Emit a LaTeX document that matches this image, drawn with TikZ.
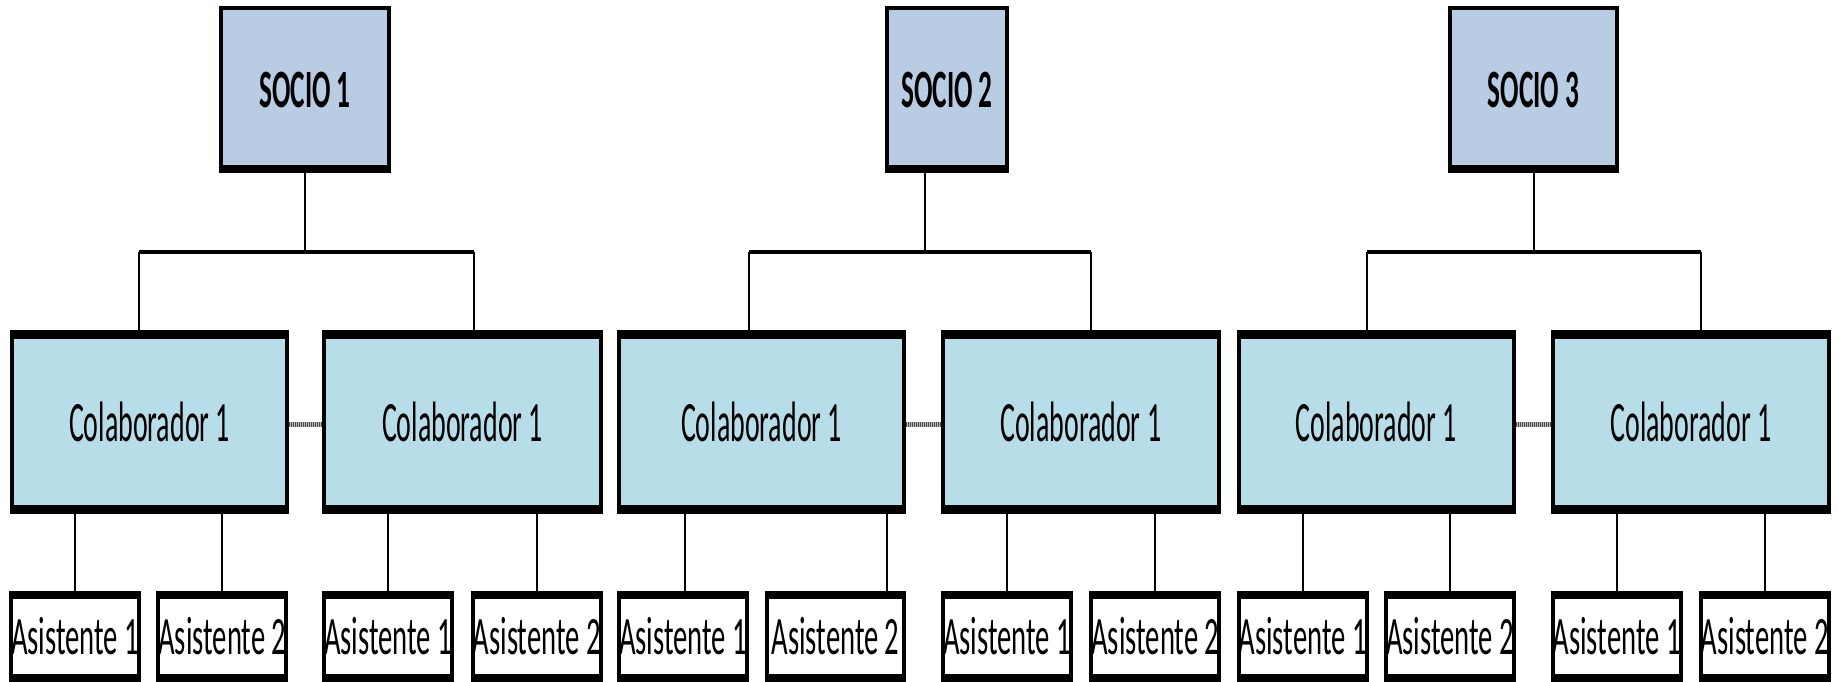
\documentclass[tikz,border=0pt]{standalone}
\usepackage{fontspec}
\setmainfont{Carlito}
\usepackage{graphicx}
\definecolor{sociofill}{RGB}{184,204,228}
\definecolor{colabfill}{RGB}{183,222,232}
\newcommand\sqz[2]{\scalebox{#1}[1]{#2}}
\begin{document}
\begin{tikzpicture}[x=1pt,y=-1pt,
  box/.style={draw=black, line width=4pt, inner sep=0pt, rectangle},
  bands/.style 2 args={path picture={
    \fill[black] (path picture bounding box.north west) rectangle ([yshift=-#1]path picture bounding box.north east);
    \fill[black] (path picture bounding box.south west) rectangle ([yshift=#2]path picture bounding box.south east);}},
  socio/.style={box, bands={0pt}{6pt}, fill=sociofill, minimum height=163pt,
    font=\fontsize{54}{60}\selectfont\bfseries},
  colab/.style={box, bands={7pt}{7pt}, fill=colabfill, minimum height=180pt,
    font=\fontsize{57}{62}\selectfont},
  asis/.style={box, bands={6pt}{6pt}, fill=white, minimum height=87pt,
    font=\fontsize{54}{60}\selectfont},
  conn/.style={draw=black, line width=2pt},
  barline/.style={draw=black, line width=4.5pt},
  linkline/.style={draw=gray!55, line width=5pt,
    postaction={draw=gray!60!black, line width=5pt, dash pattern=on 1pt off 1pt}}
]
\useasboundingbox (0,0) rectangle (1839,682);

% ---- socios ----
\node[socio, minimum width=168pt] (S1) at (305,89.5) {\sqz{0.505}{SOCIO 1}};
\node[socio, minimum width=120pt] (S2) at (947,89.5) {\sqz{0.505}{SOCIO 2}};
\node[socio, minimum width=167pt] (S3) at (1533.5,89.5) {\sqz{0.505}{SOCIO 3}};

% ---- colaboradores ----
\node[colab, minimum width=275pt]   (C1) at (149.5,422)  {\sqz{0.49}{Colaborador 1}};
\node[colab, minimum width=277pt]   (C2) at (462.5,422)  {\sqz{0.49}{Colaborador 1}};
\node[colab, minimum width=285pt]   (C3) at (761.5,422)  {\sqz{0.49}{Colaborador 1}};
\node[colab, minimum width=275.5pt] (C4) at (1080.75,422) {\sqz{0.49}{Colaborador 1}};
\node[colab, minimum width=275.4pt] (C5) at (1376.3,422) {\sqz{0.49}{Colaborador 1}};
\node[colab, minimum width=276pt]   (C6) at (1691,422)   {\sqz{0.49}{Colaborador 1}};

% ---- asistentes ----
\node[asis, minimum width=126pt]   (A1)  at (75,636.5)      {\sqz{0.53}{Asistente 1}};
\node[asis, minimum width=126.5pt] (A2)  at (222.25,636.5)  {\sqz{0.53}{Asistente 2}};
\node[asis, minimum width=128pt]   (A3)  at (388,636.5)     {\sqz{0.53}{Asistente 1}};
\node[asis, minimum width=128.5pt] (A4)  at (536.75,636.5)  {\sqz{0.53}{Asistente 2}};
\node[asis, minimum width=128pt]   (A5)  at (683,636.5)     {\sqz{0.53}{Asistente 1}};
\node[asis, minimum width=137pt]   (A6)  at (835.5,636.5)   {\sqz{0.53}{Asistente 2}};
\node[asis, minimum width=128pt]   (A7)  at (1007,636.5)    {\sqz{0.53}{Asistente 1}};
\node[asis, minimum width=126.5pt] (A8)  at (1155.25,636.5) {\sqz{0.53}{Asistente 2}};
\node[asis, minimum width=127pt]   (A9)  at (1302.5,636.5)  {\sqz{0.53}{Asistente 1}};
\node[asis, minimum width=128pt]   (A10) at (1450,636.5)    {\sqz{0.53}{Asistente 2}};
\node[asis, minimum width=127pt]   (A11) at (1616.5,636.5)  {\sqz{0.53}{Asistente 1}};
\node[asis, minimum width=128.5pt] (A12) at (1764.75,636.5) {\sqz{0.53}{Asistente 2}};

% ---- socio to colaboradores ----
\coordinate (B1l) at (139,252);  \coordinate (B1r) at (474,252);
\coordinate (B2l) at (749,252);  \coordinate (B2r) at (1091,252);
\coordinate (B3l) at (1367,252); \coordinate (B3r) at (1701,252);

\draw[conn] (S1.south) -- (S1.south |- B1l);
\draw[conn] ([xshift=-22pt]S2.south) -- ([xshift=-22pt]S2.south |- B2l);
\draw[conn] (S3.south) -- (S3.south |- B3l);

\draw[barline] (B1l) -- (B1r);
\draw[barline] (B2l) -- (B2r);
\draw[barline] (B3l) -- (B3r);

\draw[conn] (B1l) -- (B1l |- C1.north);
\draw[conn] (B1r) -- (B1r |- C2.north);
\draw[conn] (B2l) -- (B2l |- C3.north);
\draw[conn] (B2r) -- (B2r |- C4.north);
\draw[conn] (B3l) -- (B3l |- C5.north);
\draw[conn] (B3r) -- (B3r |- C6.north);

% ---- links between colaboradores ----
\draw[linkline] ([yshift=-2pt]C1.east) -- ([yshift=-2pt]C2.west);
\draw[linkline] ([yshift=-2pt]C3.east) -- ([yshift=-2pt]C4.west);
\draw[linkline] ([yshift=-2pt]C5.east) -- ([yshift=-2pt]C6.west);

% ---- colaboradores to asistentes ----
\draw[conn] (A1.north) -- (A1.north |- C1.south);
\draw[conn] (A2.north) -- (A2.north |- C1.south);
\draw[conn] (A3.north) -- (A3.north |- C2.south);
\draw[conn] (A4.north) -- (A4.north |- C2.south);
\draw[conn] ([xshift=2pt]A5.north) -- ([xshift=2pt]A5.north |- C3.south);
\draw[conn] ([xshift=51.5pt]A6.north) -- ([xshift=51.5pt]A6.north |- C3.south);
\draw[conn] (A7.north) -- (A7.north |- C4.south);
\draw[conn] (A8.north) -- (A8.north |- C4.south);
\draw[conn] (A9.north) -- (A9.north |- C5.south);
\draw[conn] (A10.north) -- (A10.north |- C5.south);
\draw[conn] (A11.north) -- (A11.north |- C6.south);
\draw[conn] (A12.north) -- (A12.north |- C6.south);
\end{tikzpicture}
\end{document}
